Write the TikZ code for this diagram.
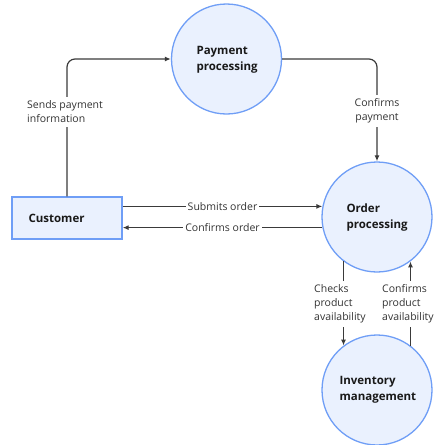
\documentclass[tikz,border=0pt]{standalone}
\usepackage{fontspec}
\setmainfont{Open Sans}
\usetikzlibrary{arrows.meta,calc}
\definecolor{nodefill}{HTML}{EAF1FE}
\definecolor{nodeline}{HTML}{6F9EF6}
\definecolor{linec}{HTML}{3A3A3A}
\definecolor{labc}{HTML}{333333}
\begin{document}
\begin{tikzpicture}[x=1pt,y=-1pt,
  proc/.style={circle,draw=nodeline,fill=nodefill,line width=1.3pt,minimum size=110pt,inner sep=0pt},
  ent/.style={rectangle,draw=nodeline,fill=nodefill,line width=1.3pt,minimum width=110pt,minimum height=42pt,inner sep=0pt},
  ttl/.style={font=\fontsize{11.5}{16}\selectfont\bfseries,text=black!90,align=left},
  lab/.style={font=\fontsize{10.5}{14}\selectfont,text=labc,fill=white,inner xsep=2pt,inner ysep=4pt,align=left},
  conn/.style={draw=linec,line width=1.2pt,-{Latex[length=6pt,width=5pt]}},
  plain/.style={draw=linec,line width=1.2pt}]
\useasboundingbox (0,0) rectangle (445,445);
\node[proc] (pay) at (226.5,59) {};
\node[ttl,anchor=west] (payt) at (193,60) {Payment\\processing};
\node[proc] (ord) at (377,217) {};
\node[ttl,anchor=west] (ordt) at (343,218) {Order\\processing};
\node[proc] (inv) at (377,390) {};
\node[ttl,anchor=west] (invt) at (336,390) {Inventory\\management};
\node[ent] (cust) at (67,218) {};
\node[ttl,anchor=west] (custt) at (25,218) {Customer};
% connectors
\draw[conn,rounded corners=8pt] (cust.north) |- (pay.west);
\draw[conn,rounded corners=8pt] (pay.east) -| (ord.north);
\draw[conn] (cust.east |- ord.169) -- node[lab,midway] (l3) {Submits order} (ord.169);
\draw[conn] (ord.191) -- node[lab,midway] (l4) {Confirms order} (cust.east |- ord.191);
\draw[conn] (ord.233) -- (inv.127);
\draw[conn] (inv.53) -- (ord.307);
% labels
\node[lab,anchor=west] (l1) at (25,112) {Sends payment\\information};
\node[lab,anchor=center,align=center] (l2) at (377,111) {Confirms\\payment};
\node[lab,anchor=west] (l5) at (312,304) {Checks\\product\\availability};
\node[lab,anchor=west] (l6) at (380,304) {Confirms\\product\\availability};
\end{tikzpicture}
\end{document}
